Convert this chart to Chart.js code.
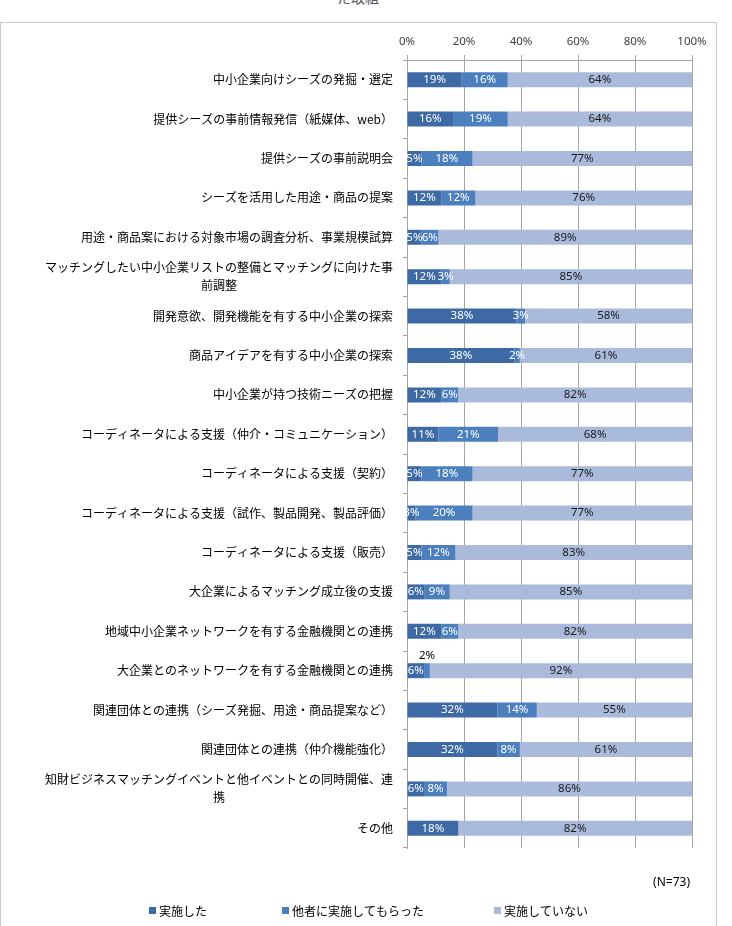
<!DOCTYPE html>
<html lang="ja">
<head>
<meta charset="utf-8">
<script src="https://cdn.jsdelivr.net/npm/chart.js@4.4.1/dist/chart.umd.min.js"></script>
<style>
  body { margin: 0; background: #fff; overflow: hidden; font-family: "Noto Sans CJK JP", sans-serif; }
  #title { position: absolute; top: -12px; left: 0; width: 716px; text-align: center; font-size: 14px; line-height: 18px; color: #595959; }
  #frame { position: absolute; left: 0; top: 22px; width: 715px; height: 920px; border: 1px solid #c8c8c8; border-bottom: none; }
  #chart { display: block; }
</style>
</head>
<body>
<div id="title">た取組</div>
<div id="frame"><canvas id="chart" width="715" height="903"></canvas></div>
<script>
// categories (top to bottom); arrays are wrapped labels
const categories = [
    '中小企業向けシーズの発掘・選定',
    '提供シーズの事前情報発信（紙媒体、web）',
    '提供シーズの事前説明会',
    'シーズを活用した用途・商品の提案',
    '用途・商品案における対象市場の調査分析、事業規模試算',
    ['マッチングしたい中小企業リストの整備とマッチングに向けた事', '前調整'],
    '開発意欲、開発機能を有する中小企業の探索',
    '商品アイデアを有する中小企業の探索',
    '中小企業が持つ技術ニーズの把握',
    'コーディネータによる支援（仲介・コミュニケーション）',
    'コーディネータによる支援（契約）',
    'コーディネータによる支援（試作、製品開発、製品評価）',
    'コーディネータによる支援（販売）',
    '大企業によるマッチング成立後の支援',
    '地域中小企業ネットワークを有する金融機関との連携',
    '大企業とのネットワークを有する金融機関との連携',
    '関連団体との連携（シーズ発掘、用途・商品提案など）',
    '関連団体との連携（仲介機能強化）',
    ['知財ビジネスマッチングイベントと他イベントとの同時開催、連', '携'],
    'その他'
];
const seriesNames = ['実施した', '他者に実施してもらった', '実施していない'];
const implemented    = [19, 16, 5, 12, 5, 12, 38, 38, 12, 11, 5, 3, 5, 6, 12, 6, 32, 32, 6, 18];
const byOthers       = [16, 19, 18, 12, 6, 3, 3, 2, 6, 21, 18, 20, 12, 9, 6, 2, 14, 8, 8, 0];
const notImplemented = [64, 64, 77, 76, 89, 85, 58, 61, 82, 68, 77, 77, 83, 85, 82, 92, 55, 61, 86, 82];
const xTicks = [0, 20, 40, 60, 80, 100];
const sampleNote = '(N=73)';

const colors = ['#3d6aa5', '#4b7fbe', '#a9badb'];
const jpFont = '"Noto Sans CJK JP", sans-serif';
const numFont = '"Noto Sans", sans-serif';
const gridColor = '#a6a6a6';

// 100% stacked: each row is scaled to its own total, labels keep the raw value
const rawSeries = [implemented, byOthers, notImplemented];
const rowTotals = implemented.map((v, i) => v + byOthers[i] + notImplemented[i]);
const share = arr => arr.map((v, i) => v / rowTotals[i] * 100);

// category labels drawn at the y scale positions (centred lines, right edge fixed)
const categoryLabels = {
    id: 'categoryLabels',
    afterDraw(chart) {
        const ctx = chart.ctx;
        const y = chart.scales.y;
        const right = chart.chartArea.left - 14;
        ctx.save();
        ctx.font = '12px ' + jpFont;
        ctx.fillStyle = '#000';
        ctx.textAlign = 'center';
        ctx.textBaseline = 'middle';
        categories.forEach(function(lab, i) {
            const lines = Array.isArray(lab) ? lab : [lab];
            const maxW = Math.max.apply(null, lines.map(l => ctx.measureText(l).width));
            const cx = right - maxW / 2;
            const yc = y.getPixelForValue(i);
            lines.forEach(function(l, j) {
                ctx.fillText(l, cx, yc + (j - (lines.length - 1) / 2) * 18);
            });
        });
        ctx.restore();
    }
};

// percentage labels in each segment
const segmentLabels = {
    id: 'segmentLabels',
    afterDatasetsDraw(chart) {
        const ctx = chart.ctx;
        const area = chart.chartArea;
        ctx.save();
        ctx.beginPath();
        ctx.rect(area.left, area.top, area.right - area.left, area.bottom - area.top);
        ctx.clip();
        ctx.font = '11.5px ' + numFont;
        ctx.textAlign = 'center';
        ctx.textBaseline = 'middle';
        chart.data.datasets.forEach(function(ds, di) {
            chart.getDatasetMeta(di).data.forEach(function(bar, i) {
                const v = rawSeries[di][i];
                if (!v) return;
                const x = (bar.x + bar.base) / 2;
                // tiny segment next to a tiny one: label sits above the bar
                if (di === 1 && v <= 2 && v + implemented[i] < 10) {
                    ctx.fillStyle = '#000';
                    ctx.fillText(v + '%', x, bar.y - 15);
                    return;
                }
                ctx.fillStyle = di === 2 ? '#1a1a1a' : '#fff';
                ctx.fillText(v + '%', x, bar.y);
            });
        });
        ctx.restore();
    }
};

// legend and sample size at the bottom (Excel-style spacing)
const bottomLegend = {
    id: 'bottomLegend',
    afterDraw(chart) {
        const ctx = chart.ctx;
        const starts = [148, 281, 493];
        const yc = 888;
        ctx.save();
        ctx.font = '12px ' + jpFont;
        ctx.textBaseline = 'middle';
        ctx.textAlign = 'left';
        chart.data.datasets.forEach(function(ds, i) {
            ctx.fillStyle = ds.backgroundColor;
            ctx.fillRect(starts[i], yc - 4, 7, 7);
            ctx.fillStyle = '#000';
            ctx.fillText(ds.label, starts[i] + 10, yc);
        });
        ctx.font = '12px ' + numFont;
        ctx.textAlign = 'right';
        ctx.fillText(sampleNote, 689, 860);
        ctx.restore();
    }
};

const ctx = document.getElementById('chart').getContext('2d');
new Chart(ctx, {
    type: 'bar',
    data: {
        labels: categories,
        datasets: [
            { label: seriesNames[0], data: share(implemented), backgroundColor: colors[0] },
            { label: seriesNames[1], data: share(byOthers), backgroundColor: colors[1] },
            { label: seriesNames[2], data: share(notImplemented), backgroundColor: colors[2] }
        ]
    },
    options: {
        indexAxis: 'y',
        responsive: false,
        animation: false,
        datasets: {
            bar: { barPercentage: 0.38, categoryPercentage: 1.0, borderWidth: 0 }
        },
        layout: { padding: { left: 0, right: 24, top: 0, bottom: 78 } },
        plugins: {
            legend: { display: false },
            tooltip: { enabled: false }
        },
        scales: {
            x: {
                position: 'top',
                stacked: true,
                min: xTicks[0],
                max: xTicks[xTicks.length - 1],
                ticks: {
                    stepSize: 20,
                    color: '#404040',
                    padding: 6,
                    font: { family: numFont, size: 11.5 },
                    callback: function(value) { return value + '%'; }
                },
                grid: { color: gridColor, tickLength: 5 },
                border: { color: gridColor },
                afterFit: function(scale) { scale.height = 37; }
            },
            y: {
                stacked: true,
                ticks: { display: false },
                grid: { offset: true, drawOnChartArea: false, tickLength: 4, color: gridColor },
                border: { color: gridColor },
                afterFit: function(scale) { scale.width = 406; }
            }
        }
    },
    plugins: [categoryLabels, segmentLabels, bottomLegend]
});
</script>
</body>
</html>
